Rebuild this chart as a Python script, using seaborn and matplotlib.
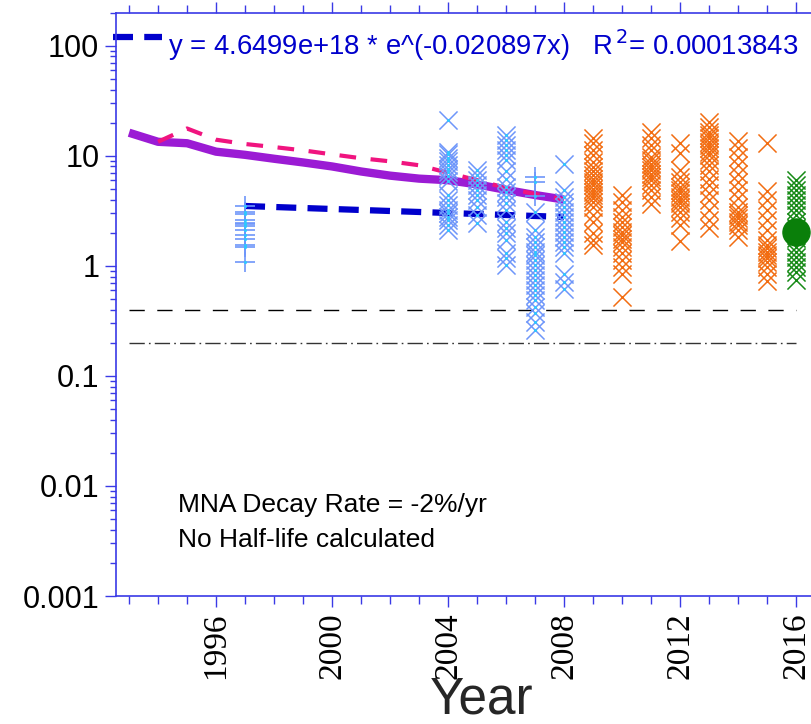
import numpy as np
import pandas as pd
import matplotlib
matplotlib.use("Agg")
import matplotlib.pyplot as plt
from matplotlib.ticker import LogLocator, FixedLocator, MultipleLocator, NullFormatter
import seaborn as sns

# ---- trend lines (annual values) ----
trend_years = [1993, 1994, 1995, 1996, 1997, 1998, 1999, 2000, 2001, 2002,
               2003, 2004, 2005, 2006, 2007, 2008]
trend_solid = [16.2, 13.4, 13.0, 10.9, 10.2, 9.4, 8.7, 8.0, 7.2, 6.6,
               6.2, 6.0, 5.5, 4.9, 4.4, 4.0]

trend_dash_years = [1994, 1995, 1996, 1997, 1998, 1999, 2000, 2001, 2002,
                    2003, 2004, 2005, 2006, 2007, 2008]
trend_dash = [13.4, 17.7, 14.0, 12.8, 12.0, 11.2, 10.3, 9.5, 8.9, 8.2,
              7.0, 6.0, 5.1, 4.5, 4.0]

# exponential fit  y = A * exp(k * x)
fit_A = 4.6499e18
fit_k = -0.020897
fit_r2 = 0.00013843
fit_range = [1997, 2008]

# reference levels
level_dashed = 0.4
level_dashdot = 0.2
level_span = [1993, 2016]

# ---- sample results ----
plus_1997 = [3.49, 3.10, 2.93, 2.60, 2.46, 2.38, 2.30, 2.12, 1.90, 1.76, 1.56, 1.47, 1.09]
plus_2007 = [6.4, 5.8, 4.3]

blue_2004 = [21.1, 10.9, 10.3, 9.5, 8.9, 8.2, 7.6, 7.1, 6.5, 5.9, 4.4, 3.96, 3.56,
             3.21, 2.99, 2.79, 2.60, 2.34, 2.11]
blue_2005 = [7.4, 6.7, 6.0, 5.4, 4.9, 4.4, 3.96, 3.44, 2.89, 2.46]
blue_2006 = [15.4, 13.9, 12.5, 11.3, 10.1, 9.1, 7.2, 6.2, 5.2, 4.7, 4.24, 3.69,
             3.21, 2.51, 2.19, 1.97, 1.71, 1.30, 1.17, 1.01]
blue_2007 = [3.06, 2.11, 1.84, 1.65, 1.49, 1.34, 1.25, 1.13, 1.01, 0.91, 0.82,
             0.74, 0.67, 0.60, 0.54, 0.49, 0.42, 0.37, 0.31, 0.26]
blue_2008 = [8.4, 4.9, 4.24, 3.82, 3.44, 3.10, 2.79, 2.51, 2.26, 2.04, 1.84,
             1.65, 1.49, 1.30, 0.85, 0.72, 0.61]

orange_2009 = [14.4, 13.0, 11.3, 10.1, 8.8, 7.9, 7.2, 6.7, 6.2, 5.8, 5.4, 5.0,
               4.7, 4.4, 4.1, 3.8, 3.44, 2.89, 2.51, 1.97, 1.71, 1.54]
orange_2010 = [4.4, 3.82, 3.21, 2.79, 2.51, 2.26, 2.04, 1.90, 1.77, 1.65, 1.49,
               1.30, 1.13, 0.98, 0.85, 0.52]
orange_2011 = [16.5, 14.4, 12.5, 11.3, 9.8, 9.1, 8.5, 7.9, 7.4, 6.9, 6.4, 6.0,
               5.4, 4.9, 4.24, 3.64]
orange_2012 = [13.0, 10.5, 7.4, 6.4, 5.8, 5.2, 4.9, 4.55, 4.24, 3.96, 3.69, 3.44,
               3.10, 2.70, 2.34, 1.69]
orange_2013 = [20.4, 18.4, 16.5, 15.4, 14.4, 13.4, 12.5, 11.7, 10.9, 10.1, 9.1,
               8.2, 7.2, 6.2, 5.4, 4.55, 3.96, 3.21, 2.60, 2.19]
orange_2014 = [13.7, 11.7, 9.8, 8.2, 6.9, 5.8, 4.9, 4.1, 3.44, 3.10, 2.89, 2.70,
               2.51, 2.34, 2.11, 1.81]
orange_2015 = [13.0, 4.8, 3.96, 3.21, 2.60, 2.11, 1.71, 1.54, 1.44, 1.34, 1.25,
               1.17, 1.09, 0.98, 0.85, 0.73]
green_2016 = [6.0, 5.4, 4.9, 4.4, 3.96, 3.56, 3.21, 2.89, 2.5, 2.2, 1.8, 1.49,
              1.34, 1.21, 1.09, 0.98, 0.88, 0.75]
green_mean_2016 = 2.04

annotation_lines = ["MNA Decay Rate = -2%/yr", "No Half-life calculated"]
x_label = "Year"
x_major_ticks = [1996, 2000, 2004, 2008, 2012, 2016]
y_major_ticks = [0.001, 0.01, 0.1, 1, 10, 100]
y_tick_labels = ["0.001", "0.01", "0.1", "1", "10", "100"]


def frame(groups):
    rows = [(yr, v) for yr, vals in groups for v in vals]
    return pd.DataFrame(rows, columns=["year", "value"])


blue_df = frame([(2004, blue_2004), (2005, blue_2005), (2006, blue_2006),
                 (2007, blue_2007), (2008, blue_2008)])
plus_df = frame([(1997, plus_1997), (2007, plus_2007)])
orange_df = frame([(2009, orange_2009), (2010, orange_2010), (2011, orange_2011),
                   (2012, orange_2012), (2013, orange_2013), (2014, orange_2014),
                   (2015, orange_2015)])
green_df = frame([(2016, green_2016)])
solid_df = pd.DataFrame({"year": trend_years, "value": trend_solid})
dash_df = pd.DataFrame({"year": trend_dash_years, "value": trend_dash})
fit_years = np.linspace(fit_range[0], fit_range[1], 50)
fit_df = pd.DataFrame({"year": fit_years, "value": fit_A * np.exp(fit_k * fit_years)})

sns.set_theme(style="white")
plt.rcParams["font.family"] = ["Liberation Sans", "DejaVu Sans"]

AXIS_BLUE = "#3a3ae6"
FIT_BLUE = "#0000cc"

fig = plt.figure(figsize=(8.11, 7.24), dpi=100)
ax = fig.add_axes([116 / 811, 128 / 724, 732 / 811, 583.4 / 724])
ax.set_yscale("log")

# reference levels
ax.plot(level_span, [level_dashed] * 2, color="black", lw=1.0,
        dashes=(11, 9), zorder=1)
ax.plot(level_span, [level_dashdot] * 2, color="#333333", lw=1.0,
        dashes=(11, 3, 1.2, 3), zorder=1)

# trend lines
sns.lineplot(data=solid_df, x="year", y="value", ax=ax, color="#9b1bd4",
             lw=6, zorder=2, solid_capstyle="butt")
sns.lineplot(data=dash_df, x="year", y="value", ax=ax, color="#f0147f",
             lw=3, zorder=3, dashes=False, linestyle=(0, (4, 3.5)))
sns.lineplot(data=fit_df, x="year", y="value", ax=ax, color=FIT_BLUE,
             lw=4.5, zorder=3, linestyle=(0, (3.2, 1.8)))

# samples
sns.scatterplot(data=plus_df, x="year", y="value", ax=ax, marker="+", s=190,
                color="#6e96fa", linewidth=1.2, zorder=4)
sns.scatterplot(data=blue_df, x="year", y="value", ax=ax, marker="x", s=170,
                color="#6e96fa", linewidth=1.1, zorder=4)
sns.scatterplot(data=pd.concat([blue_df, plus_df]), x="year", y="value", ax=ax,
                marker="o", s=5, color="#2ec8ff", linewidth=0, zorder=5)
sns.scatterplot(data=orange_df, x="year", y="value", ax=ax, marker="x", s=170,
                color="#f26d12", linewidth=1.1, zorder=4)
sns.scatterplot(data=green_df, x="year", y="value", ax=ax, marker="x", s=170,
                color="#168a16", linewidth=1.1, zorder=4)
ax.plot([2016], [green_mean_2016], marker="o", ms=19.5, color="#0a7f0a",
        lw=0, zorder=6, clip_on=False)

ax.set_xlim(1992.55, 2017.79)
ax.set_ylim(0.001, 200)

# axes styling
for side in ["left", "bottom", "top"]:
    ax.spines[side].set_color(AXIS_BLUE)
    ax.spines[side].set_linewidth(1.2)
ax.spines["right"].set_visible(False)

ax.xaxis.set_major_locator(FixedLocator(x_major_ticks))
ax.xaxis.set_minor_locator(MultipleLocator(1))
ax.set_xticklabels([str(t) for t in x_major_ticks], rotation=90,
                   family="Liberation Serif", fontsize=24)
ax.yaxis.set_major_locator(FixedLocator(y_major_ticks))
ax.yaxis.set_minor_locator(LogLocator(base=10, subs=np.arange(2, 10)))
ax.yaxis.set_minor_formatter(NullFormatter())
ax.set_yticklabels(y_tick_labels, fontsize=22)

ax.tick_params(axis="x", which="major", direction="out", length=8, width=1,
               color=AXIS_BLUE, pad=4, top=True, bottom=True, labelcolor="black")
ax.tick_params(axis="x", which="minor", direction="out", length=6, width=1,
               color=AXIS_BLUE, top=True, bottom=True)
ax.tick_params(axis="y", which="major", direction="out", length=8, width=1,
               color=AXIS_BLUE, pad=4, left=True, right=False, labelcolor="black")
ax.tick_params(axis="y", which="minor", direction="out", length=4.5, width=1,
               color=AXIS_BLUE, left=True, right=False)
ax.grid(False)

ax.set_xlabel(x_label, fontsize=37, labelpad=-3)
ax.set_ylabel("")

# fit equation with its line key
key_y = 0.959
ax.plot([-0.004, 0.063], [key_y, key_y], transform=ax.transAxes, color=FIT_BLUE,
        lw=4.5, linestyle=(0, (3.2, 1.8)), clip_on=False)
ax.text(0.0705, 0.927, "y = 4.6499e+18 * e^(-0.020897x)   R$^{\\,2}$= 0.00013843",
        transform=ax.transAxes, color=FIT_BLUE, fontsize=19.8, va="baseline")

ax.text(0.0847, 0.144, annotation_lines[0], transform=ax.transAxes,
        fontsize=19, va="baseline", color="black")
ax.text(0.0847, 0.084, annotation_lines[1], transform=ax.transAxes,
        fontsize=19, va="baseline", color="black")

fig.savefig("out.png", dpi=100)
